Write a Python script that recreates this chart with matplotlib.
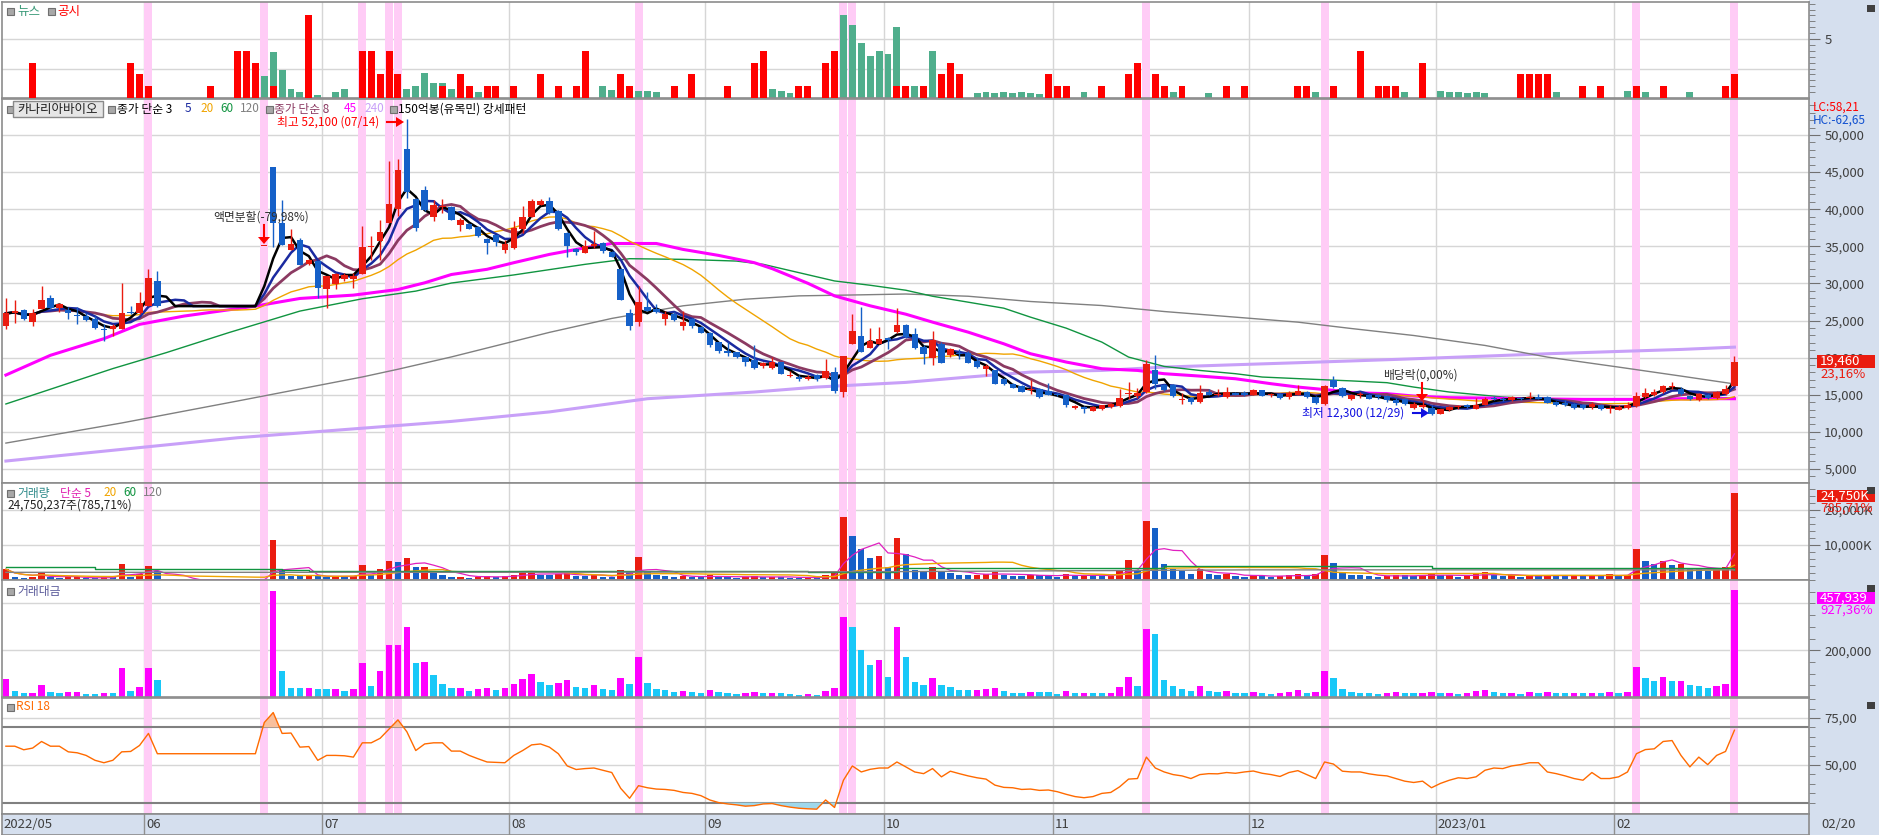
import matplotlib
matplotlib.use("Agg")
import matplotlib.pyplot as plt
import numpy as np
import pandas as pd
from matplotlib.patches import Rectangle
from matplotlib.transforms import Affine2D

plt.rcParams['font.family'] = ['Noto Sans CJK KR', 'DejaVu Sans']
plt.rcParams['axes.unicode_minus'] = False

# ---------------- 데이터 (일봉, 2022/05 ~ 2023/02/20) ----------------
N = 195
S = None  # 거래정지 구간

opens = [24250, 25950, 26360, 24790, 26580, 28060, 26630, 26360, 25730, 25600,
         25150, 23900, 23900, 23900, 26180, 25950, 26940, 30300, S, S,
         S, S, S, S, S, S, S, S, S, 35000,
         45660, 38140, 34460, 35900, 32670, 32990, 29180, 29940, 30610, 30610,
         31330, 34910, 35670, 38140, 40020, 48080, 41360, 42610, 38940, 40280,
         40300, 37840, 38070, 37570, 36050, 36460, 34490, 34760, 37390, 38960,
         40610, 41150, 39720, 36810, 34670, 34040, 35030, 35470, 34220, 31990,
         25950, 24830, 26760, 26530, 25190, 25860, 24300, 25190, 24160, 23310,
         22060, 20950, 20720, 20050, 19740, 18840, 18580, 19380, 17500, 17320,
         17060, 17590, 17230, 18040, 15360, 21840, 22870, 21300, 21840, 22600,
         23400, 24420, 23210, 21410, 19980, 21860, 20290, 20610, 20610, 19490,
         18410, 18270, 17060, 16480, 16170, 15580, 15810, 15450, 15140, 15000,
         13210, 13340, 12800, 13030, 13340, 13480, 15050, 14820, 15360, 18360,
         16260, 16260, 14330, 14550, 14020, 15360, 15000, 14690, 15230, 15230,
         15000, 15580, 14910, 15140, 14690, 15000, 15360, 14690, 13790, 17020,
         15900, 14460, 14910, 14910, 14910, 14780, 14240, 14460, 13250, 13340,
         13210, 12450, 12890, 13300, 13660, 13120, 13660, 14550, 14460, 14240,
         14550, 14550, 14640, 14690, 14010, 13930, 13790, 13660, 13340, 13570,
         13030, 12980, 13210, 13480, 14690, 14910, 15360, 15990, 15810, 14820,
         14240, 15000, 14600, 15090, 16170]
highs = [28060, 27750, 26490, 26490, 29630, 28420, 27390, 26850, 26850, 25960,
         25600, 24480, 24480, 29990, 26940, 28820, 32000, 31730, S, S,
         S, S, S, S, S, S, S, S, S, 35000,
         45660, 41270, 37370, 36120, 33300, 32990, 30970, 31420, 31420, 31420,
         37690, 36350, 38580, 46550, 46780, 52100, 41490, 43150, 41270, 41360,
         40390, 38830, 38150, 37710, 36140, 36550, 35830, 38470, 40480, 41420,
         41370, 41600, 39940, 36900, 34800, 35790, 37040, 35560, 34360, 32120,
         26530, 29660, 28900, 27200, 26310, 26170, 26310, 25280, 24300, 23400,
         22150, 22060, 20810, 20050, 21750, 19380, 20050, 19470, 18260, 17590,
         17590, 17820, 19830, 18670, 20190, 25860, 26760, 23980, 24070, 22730,
         26670, 24550, 23970, 21640, 23570, 22090, 21280, 21190, 20830, 20070,
         19170, 18360, 17240, 16570, 16260, 16930, 15900, 16570, 15270, 15140,
         13570, 13430, 13430, 13660, 13880, 15810, 16710, 15900, 19620, 20380,
         16480, 16390, 15270, 14640, 16350, 15810, 15720, 16030, 15360, 15450,
         15810, 15670, 15270, 15270, 15450, 16260, 15490, 14820, 16260, 17510,
         16030, 15140, 15360, 15140, 15140, 14910, 14550, 14600, 14010, 14240,
         13570, 13120, 13480, 13660, 13750, 14550, 14690, 14820, 14640, 14780,
         14730, 15360, 15140, 14780, 14190, 14240, 13930, 13790, 14010, 13790,
         13570, 13570, 14010, 15360, 15900, 15810, 16350, 16710, 16030, 15000,
         15270, 15140, 15450, 16350, 20200]
lows = [23800, 24700, 25060, 24250, 26490, 26490, 26180, 25150, 24480, 24930,
        23900, 22240, 22910, 23800, 25820, 25820, 26940, 26850, S, S,
        S, S, S, S, S, S, S, S, S, 35000,
        34900, 35220, 34460, 32540, 32540, 28060, 26630, 29180, 30300, 29400,
        31200, 33210, 33210, 38140, 39030, 41490, 37020, 39700, 38360, 39480,
        38500, 37040, 37390, 36280, 34000, 35030, 34040, 34580, 36810, 38960,
        40610, 39410, 37260, 33550, 33770, 34040, 34800, 34040, 33600, 27780,
        23760, 24300, 26310, 26000, 24430, 24970, 23760, 23980, 23310, 21390,
        20630, 20270, 19960, 18930, 18490, 18580, 18400, 17730, 17370, 16830,
        16970, 16830, 17060, 15270, 14690, 21840, 20810, 21300, 21840, 21170,
        23310, 22620, 21190, 19170, 18950, 19310, 20070, 19750, 19310, 18590,
        17510, 16390, 16260, 15940, 15360, 15050, 14600, 14910, 14820, 13340,
        13120, 12540, 12760, 12980, 13250, 13340, 14460, 14550, 15270, 15810,
        15490, 14690, 13790, 13790, 13930, 14910, 14820, 14600, 14910, 14820,
        14910, 14780, 14640, 14460, 14460, 14910, 14600, 13790, 13660, 15940,
        14690, 14330, 14550, 14370, 14460, 14010, 13660, 13570, 13120, 13210,
        12300, 12360, 12760, 13120, 13210, 13030, 13570, 14240, 14100, 14100,
        14240, 14460, 14370, 13880, 13480, 13480, 13120, 13120, 13120, 12980,
        12580, 12890, 13120, 13340, 14600, 14820, 15270, 15810, 14910, 14240,
        14150, 14460, 14460, 15000, 16170]
closes = [25950, 26270, 25150, 25950, 27700, 26630, 27160, 25950, 25600, 25060,
          24030, 23720, 24250, 25950, 25950, 27390, 30750, 26940, S, S,
          S, S, S, S, S, S, S, S, S, 35000,
          38140, 35220, 35360, 32540, 33120, 29400, 30970, 31330, 31110, 30970,
          34910, 35090, 36930, 40690, 45300, 42260, 37460, 39840, 40510, 40460,
          38600, 38600, 37390, 36370, 35380, 35560, 35250, 37480, 38960, 41150,
          41150, 39500, 37390, 35030, 34220, 35030, 35250, 34360, 33600, 27780,
          24210, 27430, 26310, 26090, 25860, 25100, 24830, 24300, 23310, 21750,
          20950, 20630, 20050, 19380, 18620, 19250, 19380, 17820, 17680, 17150,
          17370, 17150, 18130, 15450, 20190, 23630, 20810, 22200, 22510, 22420,
          24390, 22760, 21320, 20430, 22400, 19310, 21190, 20430, 19310, 18720,
          18810, 16480, 16480, 15940, 15360, 15810, 14690, 15000, 14910, 13570,
          13480, 13030, 13340, 13570, 13790, 14600, 15180, 15230, 19170, 16390,
          15580, 14820, 14460, 14020, 15270, 15000, 15140, 15360, 15000, 15000,
          15580, 14820, 15090, 14600, 15270, 15450, 14690, 13930, 16170, 16030,
          14820, 14910, 15090, 14460, 14640, 14240, 13930, 13790, 13700, 13570,
          12450, 13030, 13340, 13480, 13300, 13660, 14370, 14370, 14240, 14690,
          14370, 14690, 14460, 13930, 13660, 13660, 13210, 13210, 13790, 13120,
          13210, 13340, 13660, 14820, 15230, 15360, 16170, 16170, 15050, 14370,
          15140, 14550, 15360, 15800, 19460]

# 거래량 (천주)
volumes = [3100, 950, 700, 720, 1900, 800, 700, 750, 800, 500,
           450, 800, 750, 4600, 950, 1600, 4000, 2600, 0, 0,
           0, 0, 0, 0, 0, 0, 0, 0, 0, 0,
           11400, 3100, 1100, 1050, 1100, 1050, 1000, 1100, 800, 1100,
           4300, 1400, 3100, 5500, 5100, 6300, 3700, 3800, 2300, 1400,
           950, 960, 700, 950, 1100, 800, 1100, 1500, 2000, 2400,
           1500, 1300, 1600, 2100, 1200, 1100, 1500, 1000, 900, 2800,
           2200, 6500, 2200, 1300, 1200, 900, 1100, 900, 800, 1300,
           1000, 900, 700, 800, 1200, 800, 900, 800, 700, 600,
           700, 600, 1500, 2400, 18100, 12700, 9000, 6200, 7000, 3800,
           12000, 7300, 2800, 2500, 3800, 2600, 2000, 1500, 1400, 1500,
           1800, 2300, 1500, 1200, 1100, 1500, 1400, 1300, 900, 1800,
           1200, 1400, 1300, 1100, 1200, 3000, 5600, 3000, 16800, 14800,
           4600, 3200, 2500, 1800, 3100, 1800, 1300, 1700, 1100, 1000,
           1400, 1200, 900, 1100, 1300, 1800, 1200, 1600, 7200, 4800,
           2400, 1500, 1300, 1100, 900, 1200, 1400, 1300, 1200, 1300,
           1700, 1300, 1400, 1000, 1100, 1800, 2200, 1400, 1100, 1300,
           1000, 1400, 1100, 1500, 1300, 1100, 1400, 1100, 1300, 1200,
           1600, 1100, 1500, 8900, 5500, 4600, 5400, 4300, 4500, 3400,
           3200, 2700, 3100, 3600, 24750]

# 거래대금 (백만원)
amounts = [78000, 24000, 18000, 18500, 51000, 21000, 19000, 20000, 20500, 13000,
           12000, 19000, 18000, 122000, 25000, 43000, 122000, 72000, 0, 0,
           0, 0, 0, 0, 0, 0, 0, 0, 0, 0,
           452000, 112000, 39000, 37000, 37500, 34000, 33000, 34000, 25000, 34000,
           145000, 49000, 110000, 223000, 223000, 298000, 145000, 150000, 92000, 57000,
           37000, 37500, 27000, 35000, 39000, 28000, 39000, 54000, 78000, 97000,
           62000, 52000, 61000, 74000, 41000, 38000, 53000, 35000, 30000, 82000,
           56000, 170000, 58000, 34000, 31000, 23000, 27000, 22000, 19000, 29000,
           21000, 19000, 14000, 16000, 23000, 15000, 17000, 15000, 12000, 10000,
           12000, 10000, 27000, 40000, 340000, 300000, 200000, 135000, 160000, 85000,
           300000, 170000, 62000, 52000, 82000, 53000, 42000, 31000, 28000, 28500,
           33000, 40000, 25000, 19000, 17000, 23000, 21000, 20000, 13000, 25000,
           16000, 18000, 17000, 15000, 16000, 43000, 87000, 46000, 290000, 270000,
           73000, 49000, 36000, 26000, 46000, 27000, 20000, 26000, 16000, 15000,
           21000, 18000, 14000, 16000, 20000, 28000, 18000, 23000, 110000, 80000,
           36000, 22000, 19000, 16000, 13000, 17000, 20000, 18000, 16000, 18000,
           22000, 16000, 18000, 13000, 15000, 24000, 31000, 20000, 16000, 19000,
           14000, 20000, 16000, 21000, 18000, 15000, 19000, 15000, 17000, 16000,
           21000, 15000, 20000, 130000, 83000, 70000, 85000, 70000, 70000, 50000,
           47000, 40000, 46000, 56000, 457939]

# RSI 18
rsi = [60.0, 60.0, 58.1, 59.0, 62.5, 60.0, 60.0, 57.0, 56.5, 55.1,
       52.5, 51.2, 52.5, 57.0, 57.2, 60.4, 66.8, 56.0, 56.0, 56.0,
       56.0, 56.0, 56.0, 56.0, 56.0, 56.0, 56.0, 56.0, 56.0, 72.6,
       77.9, 66.8, 67.0, 59.5, 59.8, 52.5, 55.1, 55.1, 54.9, 54.2,
       61.8, 61.8, 64.2, 69.1, 74.0, 67.7, 57.7, 61.2, 61.8, 61.8,
       57.4, 57.4, 55.1, 53.3, 51.6, 51.4, 51.2, 55.1, 57.7, 60.7,
       61.2, 59.5, 56.0, 49.5, 47.6, 48.1, 48.4, 47.2, 46.0, 37.6,
       32.3, 39.0, 37.9, 37.2, 37.0, 36.5, 35.4, 34.9, 33.7, 31.4,
       30.0, 29.3, 28.8, 28.1, 28.4, 29.3, 29.5, 28.4, 27.6, 27.0,
       26.7, 26.5, 31.4, 27.4, 41.9, 49.5, 46.3, 47.7, 48.4, 48.4,
       51.6, 49.0, 46.3, 45.4, 48.1, 43.7, 46.7, 45.4, 44.2, 43.2,
       42.5, 39.3, 38.1, 37.9, 37.0, 37.2, 36.5, 36.7, 35.8, 34.4,
       33.2, 32.6, 33.2, 34.9, 35.4, 38.4, 42.5, 42.8, 54.2, 48.4,
       46.3, 44.9, 44.2, 42.8, 44.9, 45.4, 45.3, 46.0, 45.6, 46.3,
       46.8, 45.6, 44.9, 43.9, 46.0, 47.0, 44.9, 42.8, 51.6, 50.5,
       46.7, 46.3, 46.3, 45.3, 44.6, 44.2, 42.8, 41.4, 40.7, 41.4,
       37.9, 40.2, 41.9, 43.2, 42.8, 43.7, 47.2, 48.4, 48.1, 49.5,
       50.2, 51.2, 51.2, 46.3, 45.4, 44.2, 42.8, 41.9, 46.0, 42.8,
       42.8, 43.7, 46.3, 56.0, 58.2, 58.6, 62.5, 63.0, 55.1, 49.0,
       54.2, 50.2, 55.1, 57.2, 68.5]

# 장기 이평
ma45_idx = [0, 5, 11, 15, 20, 28, 33, 39, 44, 47, 50, 54, 57, 61, 65, 68, 73, 76, 80, 84,
            86, 90, 93, 97, 101, 104, 108, 112, 115, 119, 123, 127, 130, 134, 138, 142, 145,
            149, 151, 155, 158, 162, 166, 170, 177, 185, 188, 194]
ma45_val = [17650, 20310, 22550, 24480, 25600, 26940, 27970, 28420, 29180, 30080, 31200, 31900,
            32790, 33910, 34800, 35380, 35380, 34580, 33770, 32790, 31990, 30020, 28320, 26980,
            25850, 24780, 23430, 21860, 20520, 19400, 18500, 18270, 17830, 17510, 17150, 16480,
            16030, 15580, 15270, 15140, 14820, 14600, 14550, 14460, 14370, 14370, 14460, 14460]
ma60_idx = [0, 12, 18, 25, 33, 40, 46, 50, 57, 65, 70, 76, 82, 85, 89, 93, 97, 101, 104, 108,
            112, 115, 119, 123, 126, 130, 134, 138, 141, 147, 151, 155, 158, 162, 168, 173, 180,
            185, 188, 194]
ma60_val = [13750, 18520, 20670, 23360, 26270, 27930, 28960, 30050, 31140, 32570, 33330, 33240,
            33010, 32570, 31450, 30330, 29750, 29080, 28270, 27470, 26660, 25450, 23970, 22090,
            20070, 18810, 18270, 17830, 17380, 17060, 16860, 16620, 16030, 15360, 14690, 14370,
            14370, 14370, 14460, 14600]
ma120_idx = [0, 13, 26, 40, 44, 50, 61, 68, 76, 83, 89, 96, 101, 108, 115, 123, 130, 138, 145,
             151, 158, 166, 173, 181, 188, 194]
ma120_val = [8480, 11190, 14150, 17390, 18430, 20090, 23400, 25280, 26980, 27870, 28320, 28460,
             28570, 28270, 27560, 27020, 26210, 25450, 24780, 23920, 22980, 21640, 20070, 18720,
             17510, 16450]
ma240_idx = [0, 26, 50, 61, 72, 84, 91, 101, 108, 115, 123, 130, 138, 145, 151, 158, 166, 173,
             181, 188, 194]
ma240_val = [6060, 9200, 11400, 12680, 14460, 15360, 16030, 16660, 17380, 18050, 18270, 18720,
             19040, 19310, 19550, 19840, 20200, 20520, 20830, 21100, 21410]

# 거래량 장기 이평 (천주)
vma60_idx = [0, 9, 10, 30, 31, 34, 60, 90, 100, 130, 160, 194]
vma60_val = [3800, 3800, 3150, 3150, 2860, 2570, 2500, 2300, 3300, 3900, 3300, 3000]
vma120_idx = [0, 60, 100, 140, 194]
vma120_val = [2190, 2200, 2400, 2900, 2900]

# 뉴스 / 공시 건수
news_idx = [29, 30, 31, 32, 33, 35, 37, 38, 45, 46, 47, 48, 49, 50, 53, 67, 68, 71, 72, 73,
            86, 87, 88, 94, 95, 96, 97, 98, 99, 100, 102, 104, 109, 110, 111, 112, 113, 114,
            115, 116, 121, 130, 131, 132, 135, 147, 157, 161, 162, 163, 164, 165, 166, 174,
            182, 184, 189]
news_val = [1.9, 3.9, 2.4, 0.8, 0.54, 0.28, 0.54, 0.8, 0.8, 1.05, 2.15, 1.3, 1.3, 0.8, 0.54,
            1.0, 0.7, 0.6, 0.6, 0.5, 0.8, 0.6, 0.4, 7.0, 6.2, 4.7, 3.6, 4.0, 3.7, 6.0, 1.0,
            4.0, 0.4, 0.5, 0.4, 0.5, 0.4, 0.5, 0.4, 0.3, 0.5, 1.0, 0.5, 0.6, 0.4, 0.5, 0.5,
            0.6, 0.5, 0.5, 0.4, 0.5, 0.4, 0.5, 0.6, 0.5, 0.5]
gongsi_idx = [3, 14, 15, 16, 23, 26, 27, 28, 30, 34, 40, 41, 42, 43, 44, 49, 51, 52, 54, 55,
              57, 60, 62, 64, 65, 69, 70, 75, 77, 81, 84, 85, 89, 90, 92, 93, 100, 101, 103,
              105, 106, 107, 117, 118, 119, 123, 126, 127, 129, 130, 132, 137, 139, 145, 146,
              149, 152, 154, 155, 156, 159, 170, 171, 172, 173, 177, 179, 183, 186, 193, 194]
gongsi_val = [3, 3, 2, 1, 1, 4, 4, 3, 1, 7, 4, 4, 2, 4, 2, 1, 2, 1, 1, 1,
              1, 2, 1, 1, 4, 2, 1, 1, 2, 1, 3, 4, 1, 1, 3, 4, 1, 1, 1,
              2, 3, 2, 2, 1, 1, 1, 2, 3, 2, 1, 1, 1, 1, 1, 1,
              1, 4, 1, 1, 1, 3, 2, 2, 2, 2, 1, 1, 1, 1, 1, 2]

# 강세패턴(150억봉) 표시일
band_idx = [16, 29, 40, 43, 44, 71, 94, 95, 128, 148, 183, 194]

# 월 구분 (첫 거래일 인덱스)
month_start = [16, 36, 57, 79, 99, 118, 140, 161, 181]
month_label = ['06', '07', '08', '09', '10', '11', '12', '2023/01', '02']

# ---------------- 색상 ----------------
RED = '#ea1c10'
BLUE = '#1560c8'
GRID = '#d6d6d6'
SEP = '#8c8c8c'
PANEL_BG = '#d5dfee'
BAND = '#ffccf6'
C_MA3, C_MA5, C_MA20, C_MA60, C_MA120 = '#000000', '#1a2aa0', '#f0a400', '#109440', '#808080'
C_MA8, C_MA45, C_MA240 = '#8b3a62', '#ff00ff', '#c8a0f8'
AXFS = 9.5  # 축 숫자 크기

W, H = 1879, 835
fig = plt.figure(figsize=(W / 100, H / 100), dpi=100)
fig.patch.set_facecolor('white')
PIX = Affine2D().scale(1, -1).translate(0, H)  # 좌상단 기준 픽셀 좌표

X0, X1 = 2, 1809
XL = ((X0 - 5.9) / 8.91, (X1 - 5.9) / 8.91)


def add_panel(y0, y1):
    ax = fig.add_axes([X0 / W, 1 - y1 / H, (X1 - X0) / W, (y1 - y0) / H])
    ax.set_xlim(*XL)
    ax.set_xticks([])
    for s in ax.spines.values():
        s.set_color(SEP)
        s.set_linewidth(1.2)
    ax.yaxis.tick_right()
    ax.tick_params(axis='y', which='major', direction='out', length=8, color='#707070',
                   labelsize=AXFS, labelcolor='#404040', pad=3)
    ax.tick_params(axis='y', which='minor', direction='out', length=4, color='#707070')
    for m in month_start:
        ax.axvline(m - 0.5, color=GRID, lw=1, zorder=0)
    for b in band_idx:
        ax.axvspan(b - 0.45, b + 0.45, color=BAND, lw=0, zorder=0.5)
    return ax


def ptext(x, y, s, **kw):
    kw.setdefault('va', 'center')
    kw.setdefault('ha', 'left')
    kw.setdefault('fontsize', 8.5)
    fig.text(x, y, s, transform=PIX, **kw)


def prect(x, y, w, h, **kw):
    r = Rectangle((x, y), w, h, transform=PIX, **kw)
    fig.add_artist(r)


def square(x, y):
    prect(x, y - 3.5, 7, 7, fc='#a8a8a8', ec='#707070', lw=0.8, zorder=6)


# 오른쪽 축 배경
fig.add_artist(Rectangle((X1, 0), W - X1, H, transform=PIX, fc=PANEL_BG, ec='none', zorder=-5))

idx = np.arange(N)
o = np.array(opens, dtype=float)
h = np.array(highs, dtype=float)
l = np.array(lows, dtype=float)
c = np.array(closes, dtype=float)
vol = np.array(volumes, dtype=float)
amt = np.array(amounts, dtype=float)

# ---------------- 뉴스/공시 패널 ----------------
axn = add_panel(2, 98)
axn.set_ylim(0, 96 / 11.8)
axn.set_yticks([5])
axn.set_yticklabels(['5'])
axn.set_yticks(np.arange(0.5, 8.1, 0.5), minor=True)
for g in [2.5, 5]:
    axn.axhline(g, color=GRID, lw=1, zorder=0)
axn.bar(news_idx, news_val, width=0.78, color='#4fae8c', zorder=2)
axn.bar(gongsi_idx, gongsi_val, width=0.78, color='#ff0000', zorder=3)
square(7, 11)
ptext(17, 11, '뉴스', color='#3a9a78', fontsize=9)
square(48, 11)
ptext(57, 11, '공시', color='#ff0000', fontsize=9)

# ---------------- 가격 패널 ----------------
axp = add_panel(99, 483)
p_top = 50000 + (135 - 99) * 134.77
p_bot = 50000 - (483 - 135) * 134.77
axp.set_ylim(p_bot, p_top)
ticks = np.arange(5000, 50001, 5000)
axp.set_yticks(ticks)
axp.set_yticklabels([f'{t:,}' for t in ticks])
axp.set_yticks(np.arange(4000, 54001, 1000), minor=True)
for t in ticks:
    axp.axhline(t, color=GRID, lw=1, zorder=0)

cs = pd.Series(c).ffill()
ma3 = cs.rolling(3, min_periods=1).mean()
ma5 = cs.rolling(5, min_periods=1).mean()
ma8 = cs.rolling(8, min_periods=1).mean()
ma20 = cs.rolling(20, min_periods=1).mean()

axp.plot(ma240_idx, ma240_val, color=C_MA240, lw=2.2, zorder=2)
axp.plot(ma120_idx, ma120_val, color=C_MA120, lw=1, zorder=2)
axp.plot(ma60_idx, ma60_val, color=C_MA60, lw=1, zorder=2)
axp.plot(ma45_idx, ma45_val, color=C_MA45, lw=2.2, zorder=2)
axp.plot(idx, ma20, color=C_MA20, lw=1, zorder=2)
axp.plot(idx, ma8, color=C_MA8, lw=2, zorder=3)
axp.plot(idx, ma5, color=C_MA5, lw=1.8, zorder=3)
axp.plot(idx, ma3, color=C_MA3, lw=1.8, zorder=3)

valid = ~np.isnan(o)
up = c >= o
for mask, col in [(valid & up, RED), (valid & ~up, BLUE)]:
    xi = idx[mask]
    axp.vlines(xi, l[mask], h[mask], color=col, lw=1, zorder=4)
    body = np.maximum(np.abs(c[mask] - o[mask]), 140)
    axp.bar(xi, body, bottom=np.minimum(o[mask], c[mask]), width=0.72, color=col, lw=0, zorder=5)

# 범례
square(7, 109)
prect(13, 101, 90, 16, fc='#e6e6e6', ec='#8a8a8a', lw=1, zorder=6)
ptext(58, 109, '카나리아바이오', ha='center', color='#202020', fontsize=9, zorder=7)
square(108, 109)
ptext(117, 109, '종가 단순 3', color='#000000')
ptext(185, 109, '5', color=C_MA5)
ptext(200, 109, '20', color=C_MA20)
ptext(220, 109, '60', color=C_MA60)
ptext(240, 109, '120', color=C_MA120)
square(266, 109)
ptext(274, 109, '종가 단순 8', color=C_MA8)
ptext(344, 109, '45', color=C_MA45)
ptext(364, 109, '240', color=C_MA240)
square(390, 109)
ptext(398, 109, '150억봉(유목민) 강세패턴', color='#000000')

ptext(277, 122, '최고 52,100 (07/14)', color='#ff0000')
fig.add_artist(plt.Line2D([387, 397], [122, 122], transform=PIX, color='#ff0000', lw=1.5))
fig.add_artist(plt.Polygon([[396, 117], [404, 122], [396, 127]], closed=True, transform=PIX,
                           fc='#ff0000', ec='none'))

ptext(213, 217, '액면분할(-79,98%)', color='#303030')
fig.add_artist(plt.Line2D([264, 264], [225, 238], transform=PIX, color='#ff0000', lw=1.5))
fig.add_artist(plt.Polygon([[258, 237], [270, 237], [264, 244]], closed=True, transform=PIX,
                           fc='#ff0000', ec='none'))

ptext(1383, 375, '배당락(0,00%)', color='#303030')
fig.add_artist(plt.Line2D([1422, 1422], [383, 395], transform=PIX, color='#ff0000', lw=1.5))
fig.add_artist(plt.Polygon([[1416, 394], [1428, 394], [1422, 401]], closed=True, transform=PIX,
                           fc='#ff0000', ec='none'))

ptext(1302, 413, '최저 12,300 (12/29)', color='#1010e0')
fig.add_artist(plt.Line2D([1413, 1422], [413, 413], transform=PIX, color='#1010e0', lw=1.5))
fig.add_artist(plt.Polygon([[1421, 408], [1429, 413], [1421, 418]], closed=True, transform=PIX,
                           fc='#1010e0', ec='none'))

ptext(1813, 107, 'LC:58,21', color='#ff0000', fontsize=8.5)
ptext(1813, 120, 'HC:-62,65', color='#1050d0', fontsize=8.5)
prect(1817, 355, 58, 13, fc='#ea1c10', ec='none', zorder=8)
ptext(1820, 361.5, '19,460', color='white', fontsize=AXFS, zorder=9)
ptext(1820, 374, '23,16%', color='#ea1c10', fontsize=AXFS, zorder=9)

# ---------------- 거래량 패널 ----------------
axv = add_panel(483, 580)
axv.set_ylim(0, 97 * 286)
axv.set_yticks([10000, 20000])
axv.set_yticklabels(['10,000K', '20,000K'])
axv.set_yticks(np.arange(2000, 27000, 2000), minor=True)
for g in [10000, 20000]:
    axv.axhline(g, color=GRID, lw=1, zorder=0)
prev_v = np.concatenate([[0], vol[:-1]])
vcol = np.where(vol >= prev_v, RED, BLUE)
vm = vol > 0
axv.bar(idx[vm], vol[vm], width=0.72, color=vcol[vm], lw=0, zorder=2)
vs = pd.Series(vol)
axv.plot(idx, vs.rolling(5, min_periods=1).mean(), color='#e020c0', lw=0.9, zorder=3)
axv.plot(idx, vs.rolling(20, min_periods=1).mean(), color=C_MA20, lw=1, zorder=3)
axv.plot(vma60_idx, vma60_val, color=C_MA60, lw=1, zorder=3, drawstyle='steps-post')
axv.plot(vma120_idx, vma120_val, color=C_MA120, lw=1, zorder=3)
square(7, 493)
ptext(17, 493, '거래량', color='#2e8a8a')
ptext(60, 493, '단순 5', color='#e020b0')
ptext(103, 493, '20', color=C_MA20)
ptext(123, 493, '60', color=C_MA60)
ptext(143, 493, '120', color=C_MA120)
ptext(7, 505, '24,750,237주(785,71%)', color='#202020')
prect(1817, 490, 58, 12, fc='#ea1c10', ec='none', zorder=8)
ptext(1820, 496, '24,750K', color='white', fontsize=AXFS, zorder=9)
ptext(1820, 508, '785,71%', color='#ea1c10', fontsize=AXFS, zorder=9)

# ---------------- 거래대금 패널 ----------------
axa = add_panel(580, 697)
axa.set_ylim(0, 117 / 0.225)
axa.set_yticks([200000])
axa.set_yticklabels(['200,000'])
axa.set_yticks(np.arange(50000, 520000, 50000), minor=True)
for g in [200000, 400000]:
    axa.axhline(g, color=GRID, lw=1, zorder=0)
prev_a = np.concatenate([[0], amt[:-1]])
acol = np.where(amt >= prev_a, '#ff00ff', '#18c8f8')
am = amt > 0
axa.bar(idx[am], amt[am], width=0.72, color=acol[am], lw=0, zorder=2)
square(7, 591)
ptext(17, 591, '거래대금', color='#5a5a9a')
prect(1817, 592, 58, 12, fc='#ff00ff', ec='none', zorder=8)
ptext(1820, 598, '457,939', color='white', fontsize=AXFS, zorder=9)
ptext(1820, 610, '927,36%', color='#ff00ff', fontsize=AXFS, zorder=9)

# ---------------- RSI 패널 ----------------
axr = add_panel(698, 814)
axr.set_ylim(75 - 96 / 1.88, 75 + 20 / 1.88)
axr.set_yticks([50, 75])
axr.set_yticklabels(['50,00', '75,00'])
axr.set_yticks(np.arange(30, 86, 5), minor=True)
for g in [50, 75]:
    axr.axhline(g, color=GRID, lw=1, zorder=0)
for g in [30, 70]:
    axr.axhline(g, color='#808080', lw=1.5, zorder=1)
r = np.array(rsi)
axr.fill_between(idx, r, 70, where=r > 70, interpolate=True, color='#f8bf9c', lw=0, zorder=2)
axr.fill_between(idx, r, 30, where=r < 30, interpolate=True, color='#9fd8ec', lw=0, zorder=2)
axr.plot(idx, r, color='#ff6a00', lw=1, zorder=3)
square(7, 707)
ptext(16, 707, 'RSI 18', color='#ff6a00')

# 패널 아이콘
for yy in [8, 490, 588, 705]:
    prect(1867, yy - 3, 8, 7, fc='#404040', ec='none', zorder=8)

# ---------------- 날짜 축 ----------------
axx = fig.add_axes([X0 / W, 0, (X1 - X0) / W, (835 - 814) / H])
axx.set_xlim(*XL)
axx.set_ylim(0, 1)
axx.set_facecolor(PANEL_BG)
axx.set_xticks([])
axx.set_yticks([])
for s in axx.spines.values():
    s.set_color(SEP)
    s.set_linewidth(1.2)
for m in month_start:
    axx.axvline(m - 0.5, color='#909090', lw=1)
ptext(3, 825, '2022/05', color='#404040', fontsize=AXFS)
for m, lab in zip(month_start, month_label):
    ptext(5.9 + (m - 0.5) * 8.91 + 2, 825, lab, color='#404040', fontsize=AXFS)
ptext(1821, 825, '02/20', color='#404040', fontsize=AXFS)

fig.savefig('out.png', dpi=100, facecolor='white')
